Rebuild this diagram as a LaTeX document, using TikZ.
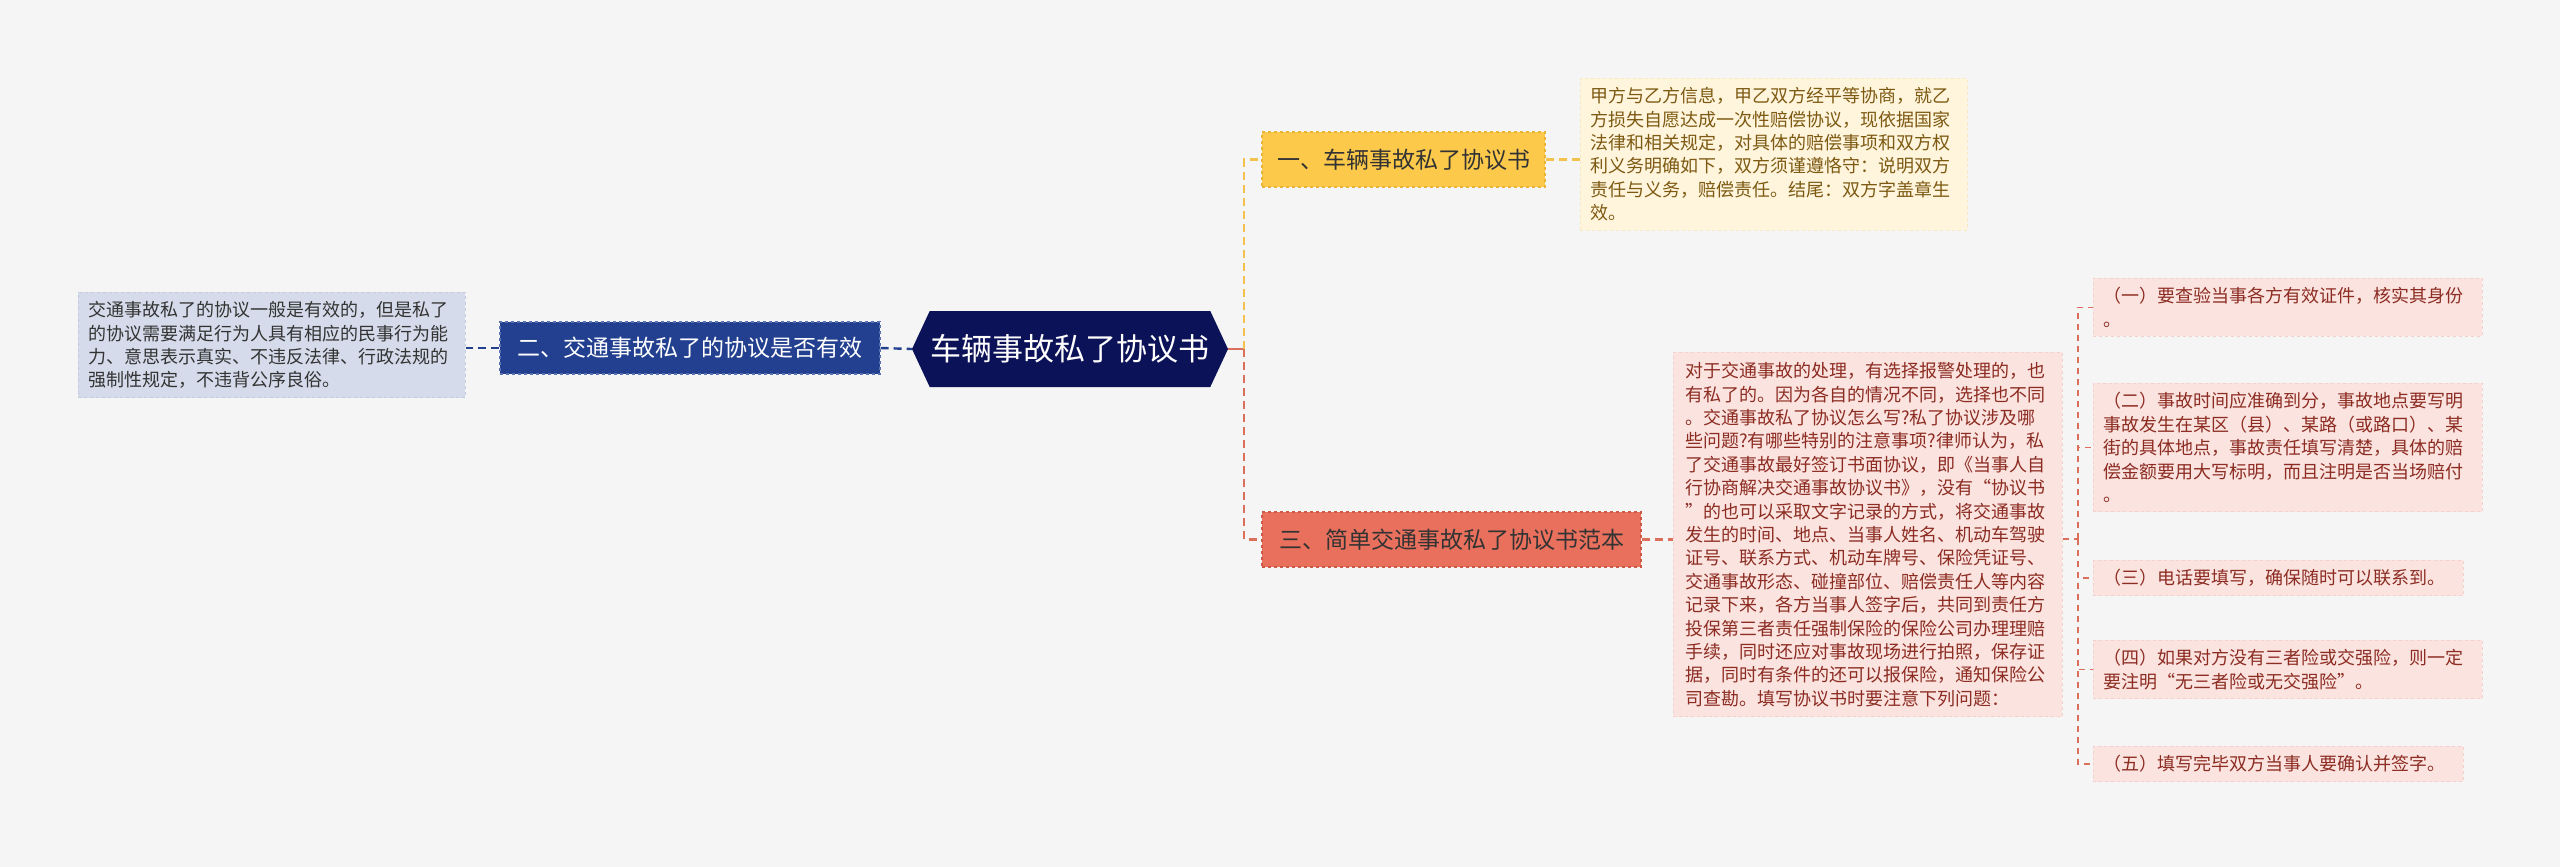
\documentclass[tikz,border=0pt]{standalone}
\usepackage{fontspec}
\setmainfont{Noto Sans CJK SC}
\usetikzlibrary{shapes.symbols}
\definecolor{bgc}{HTML}{F5F5F5}
\definecolor{navy}{HTML}{0C1257}
\definecolor{blueA}{HTML}{22408F}
\definecolor{blueB}{HTML}{5A72B0}
\definecolor{blueL}{HTML}{D5DBEA}
\definecolor{blueLB}{HTML}{C2CADF}
\definecolor{yelA}{HTML}{FCC94B}
\definecolor{yelB}{HTML}{E9B436}
\definecolor{yelL}{HTML}{FFF4DC}
\definecolor{yelLB}{HTML}{F7E8C4}
\definecolor{yelT}{HTML}{7D5A12}
\definecolor{redA}{HTML}{E8705C}
\definecolor{redB}{HTML}{CC5846}
\definecolor{redL}{HTML}{FBE3DF}
\definecolor{redLB}{HTML}{F3D0CA}
\definecolor{redT}{HTML}{8C2C22}
\definecolor{yelLine}{HTML}{F2C14E}
\definecolor{redLine}{HTML}{DC6E5C}
\definecolor{darkT}{HTML}{333333}
\begin{document}
\begin{tikzpicture}[x=1pt,y=-1pt,
  title/.style={draw, dashed, line width=1.2pt, inner sep=0pt, minimum height=55pt,
    font=\fontsize{23}{28}\selectfont},
  note/.style={anchor=north west, draw, dashed, line width=0.8pt, inner xsep=10pt,
    inner ysep=9pt, align=left, font=\fontsize{18}{23.4}\selectfont},
  link/.style={line width=2.4pt, dash pattern=on 8pt off 5pt},
  thin link/.style={line width=1.5pt, dash pattern=on 6pt off 5pt, draw=redLine}]
\fill[bgc] (0,0) rectangle (2560,867);
\useasboundingbox (0,0) rectangle (2560,867);

% centre
\node[signal, signal to=west and east, signal pointer angle=130, fill=navy, text=white,
  font=\fontsize{31}{36}\selectfont, minimum height=76pt, minimum width=316pt,
  inner xsep=0pt] (c) at (1070,349) {车辆事故私了协议书};

% branch titles
\node[title, fill=yelA, draw=yelB, text=darkT, minimum width=283pt] (n1) at (1403.5,159.5) {一、车辆事故私了协议书};
\node[title, fill=blueA, draw=blueB, text=white, minimum width=380pt, minimum height=52pt] (n2) at (690,348) {二、交通事故私了的协议是否有效};
\node[title, fill=redA, draw=redB, text=darkT, minimum width=379pt] (n3) at (1451.5,539.5) {三、简单交通事故私了协议书范本};

% notes
\node[note, fill=yelL, draw=yelLB, text=yelT, text width=367pt] (t1) at (1580,78) {甲方与乙方信息，甲乙双方经平等协商，就乙\\方损失自愿达成一次性赔偿协议，现依据国家\\法律和相关规定，对具体的赔偿事项和双方权\\利义务明确如下，双方须谨遵恪守：说明双方\\责任与义务，赔偿责任。结尾：双方字盖章生\\效。};
\node[note, fill=blueL, draw=blueLB, text=darkT, text width=367pt] (t2) at (78,292) {交通事故私了的协议一般是有效的，但是私了\\的协议需要满足行为人具有相应的民事行为能\\力、意思表示真实、不违反法律、行政法规的\\强制性规定，不违背公序良俗。};
\node[note, fill=redL, draw=redLB, text=redT, text width=365pt, inner xsep=12pt, inner ysep=10pt] (t3) at (1673,352) {对于交通事故的处理，有选择报警处理的，也\\有私了的。因为各自的情况不同，选择也不同\\。交通事故私了协议怎么写?私了协议涉及哪\\些问题?有哪些特别的注意事项?律师认为，私\\了交通事故最好签订书面协议，即《当事人自\\行协商解决交通事故协议书》，没有“协议书\\”的也可以采取文字记录的方式，将交通事故\\发生的时间、地点、当事人姓名、机动车驾驶\\证号、联系方式、机动车牌号、保险凭证号、\\交通事故形态、碰撞部位、赔偿责任人等内容\\记录下来，各方当事人签字后，共同到责任方\\投保第三者责任强制保险的保险公司办理理赔\\手续，同时还应对事故现场进行拍照，保存证\\据，同时有条件的还可以报保险，通知保险公\\司查勘。填写协议书时要注意下列问题：};

% items
\node[note, fill=redL, draw=redLB, text=redT, text width=369pt] (i1) at (2093,278) {（一）要查验当事各方有效证件，核实其身份\\。};
\node[note, fill=redL, draw=redLB, text=redT, text width=369pt] (i2) at (2093,383) {（二）事故时间应准确到分，事故地点要写明\\事故发生在某区（县）、某路（或路口）、某\\街的具体地点，事故责任填写清楚，具体的赔\\偿金额要用大写标明，而且注明是否当场赔付\\。};
\node[note, fill=redL, draw=redLB, text=redT, text width=350pt] (i3) at (2093,560) {（三）电话要填写，确保随时可以联系到。};
\node[note, fill=redL, draw=redLB, text=redT, text width=369pt] (i4) at (2093,640) {（四）如果对方没有三者险或交强险，则一定\\要注明“无三者险或无交强险”。};
\node[note, fill=redL, draw=redLB, text=redT, text width=350pt] (i5) at (2093,746) {（五）填写完毕双方当事人要确认并签字。};

% connectors
\coordinate (j) at (1244,349);
\coordinate (k) at (2078,539);
\draw[line width=2.4pt, draw=redLine] (c.east) -- (j);
\draw[link, draw=yelLine] (j) |- (n1.west);
\draw[link, draw=redLine] (j) |- (n3.west);
\draw[link, draw=yelLine] (n1.east) -- (t1.west |- n1.east);
\draw[link, draw=redLine] (n3.east) -- (t3.west |- n3.east);
\draw[link, draw=blueA] (n2.east) -- (c.west);
\draw[link, draw=blueA] (n2.west) -- (t2.east |- n2.west);
\draw[thin link] (t3.east |- k) -- (k);
\draw[thin link] (k) |- (i1.west);
\draw[thin link] (k) |- (i2.west);
\draw[thin link] (k) |- (i3.west);
\draw[thin link] (k) |- (i4.west);
\draw[thin link] (k) |- (i5.west);
\end{tikzpicture}
\end{document}
